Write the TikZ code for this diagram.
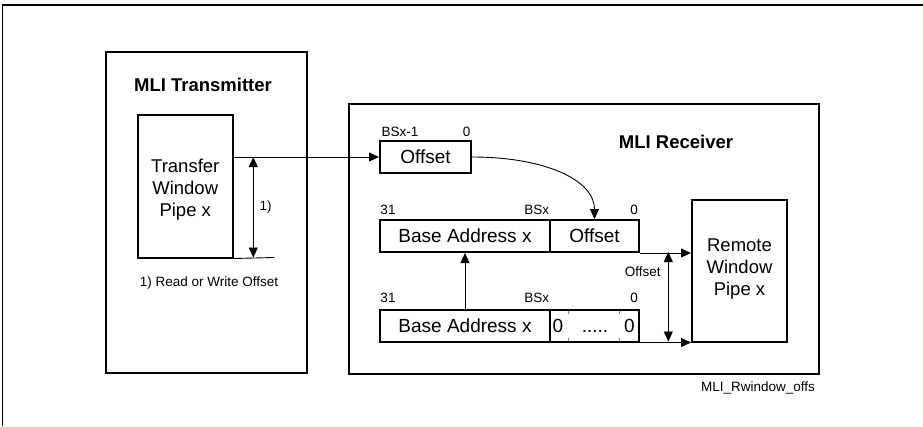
\documentclass[tikz,border=0pt]{standalone}
\usepackage{fontspec}
\setmainfont{Liberation Sans}
\usetikzlibrary{arrows.meta}
\begin{document}
\begin{tikzpicture}[x=1pt,y=-1pt,
  bigbox/.style={draw,line width=2pt,inner sep=0pt},
  fieldbox/.style={draw,line width=2pt,inner sep=0pt,minimum height=32pt,font=\fontsize{19}{22}\selectfont},
  boxtext/.style={font=\fontsize{18.5}{22}\selectfont,align=center,inner sep=0pt},
  titletext/.style={font=\fontsize{18.5}{22}\bfseries\selectfont},
  smalltext/.style={font=\fontsize{13.5}{16}\selectfont,inner sep=0pt},
  conn/.style={line width=0.9pt},
  tip/.style={-{Triangle[length=10pt,width=9pt]}},
  dtip/.style={{Triangle[length=10pt,width=9pt]}-{Triangle[length=10pt,width=9pt]}},
  tick/.style={line width=0.6pt,gray}
]
\useasboundingbox (0,0) rectangle (923,426);
% outer frame lines
\coordinate (fa) at (923,5);
\coordinate (fb) at (2.7,5);
\coordinate (fc) at (2.7,426);
\draw[line width=1.4pt] (fa) -- (fb) -- (fc);

% transmitter
\node[bigbox,minimum width=201pt,minimum height=321pt] (tx) at (206.5,212.5) {};
\node[titletext] (txt) at (203,85) {MLI Transmitter};
\node[bigbox,minimum width=95.5pt,minimum height=142.5pt] (tw) at (185.25,186.25) {};
\node[boxtext] (twt) at (185.25,189.5) {Transfer\\Window\\Pipe x};
\node[smalltext] (fn) at (209,282.7) {1) Read or Write Offset};
\node[smalltext] (one) at (265.7,206.7) {1)};
\coordinate (tb) at (274,257.5);
\coordinate (da) at (253.3,157);
\coordinate (db) at (253.3,257.5);

% receiver
\node[bigbox,minimum width=470pt,minimum height=270pt] (rx) at (584,239) {};
\node[titletext] (rxt) at (676,141.7) {MLI Receiver};

\node[fieldbox,minimum width=91pt] (so) at (425.5,157) {Offset};
\node[smalltext] (l1) at (400,131.7) {BSx-1};
\node[smalltext] (l2) at (466.7,131.7) {0};

\node[fieldbox,minimum width=170pt] (r1b) at (465,236) {Base Address x};
\node[fieldbox,minimum width=89pt] (r1o) at (594.5,236) {Offset};
\node[smalltext] (l3) at (388,210) {31};
\node[smalltext] (l4) at (536.7,210) {BSx};
\node[smalltext] (l5) at (634,210) {0};

\node[fieldbox,minimum width=170pt] (r2b) at (465,325.5) {Base Address x};
\node[fieldbox,minimum width=89pt] (r2z) at (594.5,325.5) {};
\node[font=\fontsize{19}{22}\selectfont,inner sep=0pt] (z1) at (558,325.5) {0};
\node[font=\fontsize{19}{22}\selectfont,inner sep=0pt] (z2) at (629.3,325.5) {0};
\node[font=\fontsize{19}{22}\selectfont,inner sep=0pt] (zd) at (595,325.5) {\vphantom{0}.....};
\node[smalltext] (l6) at (388,298.3) {31};
\node[smalltext] (l7) at (536.7,298.3) {BSx};
\node[smalltext] (l8) at (634,298.3) {0};
\coordinate (t1a) at (568.3,310.5); \coordinate (t1b) at (568.3,313.5);
\coordinate (t2a) at (619.3,310.5); \coordinate (t2b) at (619.3,313.5);
\coordinate (t3a) at (568.3,337.5); \coordinate (t3b) at (568.3,340.5);
\coordinate (t4a) at (619.3,337.5); \coordinate (t4b) at (619.3,340.5);
\draw[tick] (t1a) -- (t1b) (t2a) -- (t2b) (t3a) -- (t3b) (t4a) -- (t4b);

\node[bigbox,minimum width=95pt,minimum height=142.5pt] (rw) at (739.5,270.75) {};
\node[boxtext] (rwt) at (739.5,269.5) {Remote\\Window\\Pipe x};
\node[smalltext] (ol) at (642.7,271.7) {Offset};
\coordinate (oa) at (668.3,252);
\coordinate (ob) at (668.3,341.5);

\node[smalltext] (cap) at (758,388.3) {MLI\_Rwindow\_offs};

% connectors
\draw[conn,tip] (tw.east |- so.west) -- (so.west);
\draw[conn] (tw.south east) -- (tb);
\draw[conn,dtip] (da) -- (db);
\draw[conn,tip] (so.east) .. controls (545,157) and (594.5,180) .. (r1o.north);
\draw[conn,tip] (r2b.north) -- (r1b.south);
\draw[conn,tip] (r1o.south east) -- (rw.west |- r1o.south east);
\draw[conn,tip] (r2z.south east) -- (rw.west |- r2z.south east);
\draw[conn,dtip] (oa) -- (ob);
\end{tikzpicture}
\end{document}
